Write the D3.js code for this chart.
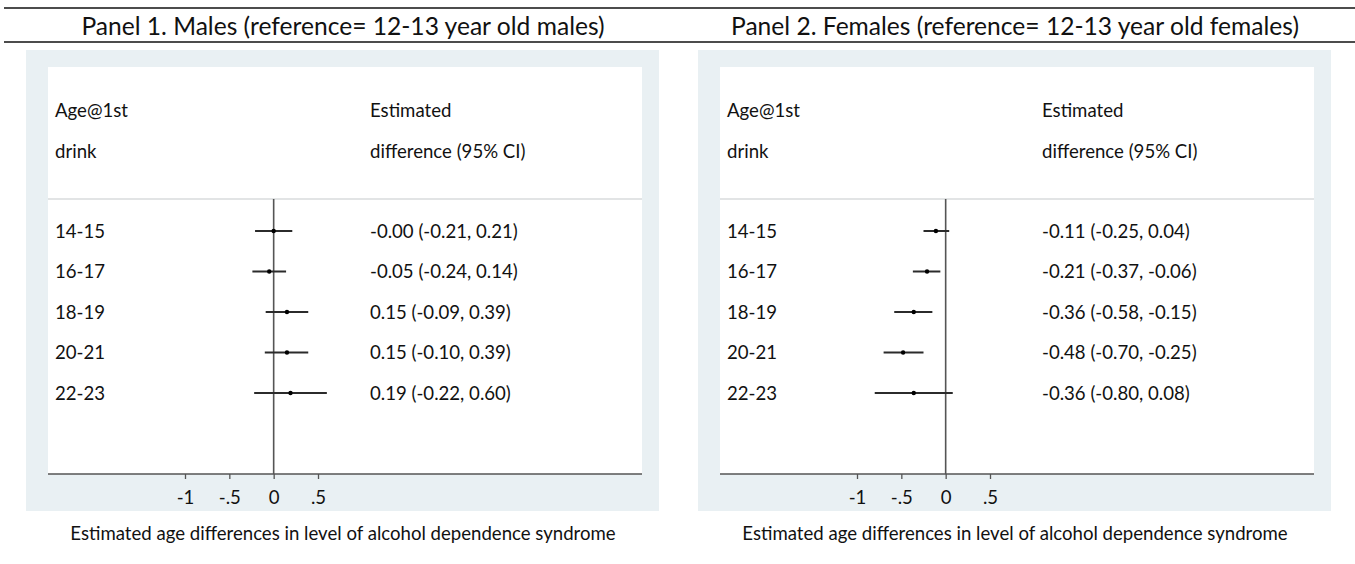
<!DOCTYPE html>
<html>
<head>
<meta charset="utf-8">
<script src="https://cdn.jsdelivr.net/npm/d3@7"></script>
<style>
  html, body { margin: 0; padding: 0; background: #fff; }
  svg text { font-family: Lato, "Open Sans", sans-serif; fill: #111; }
</style>
</head>
<body>
<svg id="chart" width="1355" height="564"></svg>
<script>
// ---- data ----
const categories = ["14-15", "16-17", "18-19", "20-21", "22-23"];
const panelTitles = [
  "Panel 1. Males (reference= 12-13 year old males)",
  "Panel 2. Females (reference= 12-13 year old females)"
];
const maleEst  = [-0.00, -0.05, 0.15, 0.15, 0.19];
const maleLo   = [-0.21, -0.24, -0.09, -0.10, -0.22];
const maleHi   = [0.21, 0.14, 0.39, 0.39, 0.60];
const femaleEst = [-0.11, -0.21, -0.36, -0.48, -0.36];
const femaleLo  = [-0.25, -0.37, -0.58, -0.70, -0.80];
const femaleHi  = [0.04, -0.06, -0.15, -0.25, 0.08];
const tickValues = [-1, -0.5, 0, 0.5];
const tickLabels = ["-1", "-.5", "0", ".5"];
const headerLeft = ["Age@1st", "drink"];
const headerRight = ["Estimated", "difference (95% CI)"];
const xAxisTitle = "Estimated age differences in level of alcohol dependence syndrome";

const f2 = v => d3.format(".2f")(v).replace("\u2212", "-");
function ciText(e, l, h) {
  const es = (e === 0) ? "-0.00" : f2(e);
  return es + " (" + f2(l) + ", " + f2(h) + ")";
}

const panels = [
  { title: panelTitles[0], est: maleEst, lo: maleLo, hi: maleHi },
  { title: panelTitles[1], est: femaleEst, lo: femaleLo, hi: femaleHi }
];

const FS = "18.6px";
const svg = d3.select("#chart");
svg.append("rect").attr("width", 1355).attr("height", 564).attr("fill", "#fff");

// top rules
[8, 42].forEach(y => {
  svg.append("line").attr("x1", 4).attr("x2", 1355).attr("y1", y).attr("y2", y)
    .attr("stroke", "#111").attr("stroke-width", 1.5);
});

const panelOffset = 672;

panels.forEach((p, pi) => {
  const g = svg.append("g").attr("transform", `translate(${pi * panelOffset},0)`);

  // title
  g.append("text").attr("x", 343).attr("y", 26).attr("dy", "0.35em")
    .attr("text-anchor", "middle").style("font-size", "24.6px").text(p.title);

  // outer grey region
  g.append("rect").attr("x", 26).attr("y", 50).attr("width", 633).attr("height", 461)
    .attr("fill", "#e9f0f3");
  // inner white plot region
  g.append("rect").attr("x", 48).attr("y", 67).attr("width", 594).attr("height", 407)
    .attr("fill", "#fff");

  const x = d3.scaleLinear().domain([-1, 0.5]).range([185, 318]);
  const y = d3.scalePoint().domain(categories).range([231, 393]);

  // header separator
  g.append("line").attr("x1", 48).attr("x2", 642).attr("y1", 199).attr("y2", 199)
    .attr("stroke", "#e2e4e5").attr("stroke-width", 2);

  // headers
  headerLeft.forEach((t, i) => {
    g.append("text").attr("x", 55).attr("y", 110 + i * 41).attr("dy", "0.35em")
      .style("font-size", FS).text(t);
  });
  headerRight.forEach((t, i) => {
    g.append("text").attr("x", 370).attr("y", 110 + i * 41).attr("dy", "0.35em")
      .style("font-size", FS).text(t);
  });

  // zero reference line
  g.append("line").attr("x1", x(0)).attr("x2", x(0)).attr("y1", 199).attr("y2", 474)
    .attr("stroke", "#555").attr("stroke-width", 1.6);

  // x axis
  const axis = d3.axisBottom(x).tickValues(tickValues).tickSize(5)
    .tickFormat((d, i) => tickLabels[i]);
  const ag = g.append("g").attr("transform", "translate(0,474)").call(axis);
  ag.select(".domain").remove();
  ag.selectAll(".tick line").attr("stroke", "#555").attr("stroke-width", 1.3);
  ag.selectAll(".tick text").attr("y", 23).attr("dy", "0.35em")
    .style("font-size", FS).style("font-family", "Lato, sans-serif").attr("fill", "#111");
  g.append("line").attr("x1", 48).attr("x2", 642).attr("y1", 474).attr("y2", 474)
    .attr("stroke", "#555").attr("stroke-width", 1.6);

  // rows
  categories.forEach((c, i) => {
    g.append("text").attr("x", 55).attr("y", y(c)).attr("dy", "0.35em")
      .style("font-size", FS).text(c);
    g.append("line").attr("x1", x(p.lo[i])).attr("x2", x(p.hi[i]))
      .attr("y1", y(c)).attr("y2", y(c)).attr("stroke", "#2b2b2b").attr("stroke-width", 2);
    g.append("circle").attr("cx", x(p.est[i])).attr("cy", y(c)).attr("r", 2.2).attr("fill", "#000");
    g.append("text").attr("x", 370).attr("y", y(c)).attr("dy", "0.35em")
      .style("font-size", FS).text(ciText(p.est[i], p.lo[i], p.hi[i]));
  });

  // x axis title
  g.append("text").attr("x", 343).attr("y", 533).attr("dy", "0.35em")
    .attr("text-anchor", "middle").style("font-size", FS).text(xAxisTitle);
});
</script>
</body>
</html>
